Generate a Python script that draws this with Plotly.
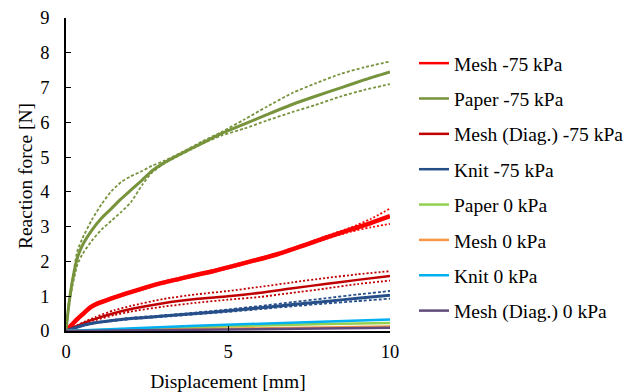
import plotly.graph_objects as go

# ---------------- data ----------------
paper75_x = [0, 0.05, 0.1, 0.2, 0.35, 0.5, 0.8, 1.1, 1.4, 1.7, 2.0, 2.35, 2.65, 3.0, 3.6, 4.2, 4.8, 5.5, 6.2, 7.0, 7.7, 8.5, 9.2, 10]
paper75_y = [0, 0.45, 0.85, 1.45, 2.1, 2.45, 2.9, 3.25, 3.52, 3.8, 4.05, 4.34, 4.6, 4.82, 5.12, 5.4, 5.68, 5.95, 6.22, 6.52, 6.75, 7.0, 7.22, 7.45]
paper75_hi = [0, 0.5, 0.9, 1.5, 2.3, 2.65, 3.2, 3.65, 4.02, 4.28, 4.45, 4.6, 4.75, 4.88, 5.15, 5.45, 5.72, 6.08, 6.45, 6.85, 7.12, 7.4, 7.58, 7.75]
paper75_lo = [0, 0.4, 0.75, 1.3, 1.9, 2.2, 2.6, 2.92, 3.17, 3.42, 3.7, 4.2, 4.55, 4.8, 5.1, 5.38, 5.62, 5.82, 6.05, 6.3, 6.5, 6.75, 6.93, 7.1]

mesh75_x = [0, 0.15, 0.3, 0.5, 0.75, 1.0, 1.5, 2.0, 2.5, 3.0, 3.5, 4.0, 4.5, 5.0, 5.7, 6.5, 7.3, 8.0, 8.8, 9.4, 10]
mesh75_y = [0, 0.15, 0.3, 0.47, 0.68, 0.8, 0.97, 1.12, 1.26, 1.39, 1.5, 1.61, 1.71, 1.83, 2.0, 2.2, 2.45, 2.68, 2.92, 3.1, 3.3]
mesh75_hi = [0, 0.17, 0.33, 0.5, 0.71, 0.83, 1.0, 1.15, 1.29, 1.42, 1.53, 1.64, 1.74, 1.86, 2.03, 2.23, 2.48, 2.72, 2.98, 3.22, 3.52]
mesh75_lo = [0, 0.13, 0.27, 0.44, 0.65, 0.77, 0.94, 1.09, 1.23, 1.36, 1.47, 1.58, 1.68, 1.8, 1.97, 2.17, 2.42, 2.64, 2.86, 2.98, 3.08]

diag75_x = [0, 0.3, 0.6, 0.9, 1.5, 2.0, 3.0, 4.0, 5.0, 6.0, 7.0, 8.0, 9.0, 10]
diag75_y = [0, 0.13, 0.25, 0.35, 0.52, 0.63, 0.8, 0.92, 1.0, 1.1, 1.23, 1.35, 1.47, 1.58]
diag75_hi = [0, 0.14, 0.28, 0.4, 0.6, 0.72, 0.92, 1.05, 1.15, 1.27, 1.4, 1.52, 1.63, 1.72]
diag75_lo = [0, 0.12, 0.22, 0.31, 0.46, 0.56, 0.7, 0.81, 0.9, 0.98, 1.1, 1.22, 1.35, 1.45]

knit75_x = [0, 0.3, 0.6, 1.0, 2.0, 3.0, 4.0, 5.0, 6.0, 7.0, 8.0, 9.0, 10]
knit75_y = [0, 0.1, 0.18, 0.25, 0.36, 0.43, 0.5, 0.58, 0.67, 0.76, 0.85, 0.94, 1.03]
knit75_hi = [0, 0.1, 0.19, 0.26, 0.38, 0.45, 0.53, 0.62, 0.72, 0.83, 0.94, 1.05, 1.15]
knit75_lo = [0, 0.09, 0.17, 0.24, 0.34, 0.41, 0.48, 0.55, 0.63, 0.71, 0.79, 0.86, 0.93]

zero_x = [0, 2, 4, 6, 8, 10]
paper0_y = [0, 0.06, 0.11, 0.16, 0.2, 0.23]
mesh0_y = [0, 0.03, 0.06, 0.08, 0.1, 0.13]
knit0_y = [0, 0.08, 0.15, 0.21, 0.27, 0.33]
diag0_y = [0, 0.02, 0.04, 0.06, 0.07, 0.09]

names = ["Mesh -75 kPa", "Paper -75 kPa", "Mesh (Diag.) -75 kPa", "Knit -75 kPa",
         "Paper 0 kPa", "Mesh 0 kPa", "Knit 0 kPa", "Mesh (Diag.) 0 kPa"]
colors = ["#FF0000", "#77933C", "#C00000", "#264F8A",
          "#92D050", "#F79646", "#00B0F0", "#604A7B"]

x_ticks = [0, 5, 10]
y_ticks = [0, 1, 2, 3, 4, 5, 6, 7, 8, 9]
x_title = "Displacement [mm]"
y_title = "Reaction force [N]"

FONT = "Liberation Serif, Times New Roman, serif"

fig = go.Figure()

series_75 = [
    (mesh75_x, mesh75_y, mesh75_hi, mesh75_lo, 4.5, "2px,2px"),
    (paper75_x, paper75_y, paper75_hi, paper75_lo, 3.0, "3px,2px"),
    (diag75_x, diag75_y, diag75_hi, diag75_lo, 2.5, "2px,2px"),
    (knit75_x, knit75_y, knit75_hi, knit75_lo, 3.0, "3px,2px"),
]

for i, (xs, ym, yh, yl, w, dash) in enumerate(series_75):
    grp = f"g{i}"
    for yb in (yh, yl):
        fig.add_trace(go.Scatter(x=xs, y=yb, mode="lines",
                                 line=dict(color=colors[i], width=1.8, dash=dash, shape="spline", smoothing=0.6),
                                 legendgroup=grp, showlegend=False, hoverinfo="skip"))
    fig.add_trace(go.Scatter(x=xs, y=ym, mode="lines", name=names[i],
                             line=dict(color=colors[i], width=w, shape="spline", smoothing=0.6),
                             legendgroup=grp, showlegend=False))

zero_series = [paper0_y, mesh0_y, knit0_y, diag0_y]
for j, ys in enumerate(zero_series):
    i = 4 + j
    fig.add_trace(go.Scatter(x=zero_x, y=ys, mode="lines", name=names[i],
                             line=dict(color=colors[i], width=2.5),
                             legendgroup=f"g{i}", showlegend=False))

# legend entries (uniform line width, as in the reference legend)
for i, nm in enumerate(names):
    fig.add_trace(go.Scatter(x=[None], y=[None], mode="lines", name=nm,
                             line=dict(color=colors[i], width=2.5),
                             legendgroup=f"g{i}", showlegend=True))

# the page body adds an 8px offset, so the figure is 630x384 and margins are shifted
fig.update_layout(
    width=630, height=384,
    margin=dict(l=58, r=248, t=10, b=61, autoexpand=False),
    paper_bgcolor="white", plot_bgcolor="white",
    font=dict(family=FONT, size=19, color="black"),
    showlegend=True,
    legend=dict(x=1.074, y=0.917, xanchor="left", yanchor="top",
                font=dict(family=FONT, size=19.5, color="black"),
                tracegroupgap=7, traceorder="grouped", itemwidth=30,
                bgcolor="rgba(0,0,0,0)"),
    annotations=[dict(text=y_title, textangle=-90, xref="paper", yref="paper",
                      x=-0.1265, y=0.495, xanchor="center", yanchor="middle",
                      showarrow=False, font=dict(family=FONT, size=19.5, color="black"))],
)
fig.update_xaxes(range=[0, 10], tickvals=x_ticks, ticks="inside", ticklen=5, tickcolor="black",
                 showline=True, linecolor="black", linewidth=1.5, showgrid=False, zeroline=False,
                 automargin=False,
                 tickfont=dict(family=FONT, size=18.5), ticklabelstandoff=3,
                 title=dict(text=x_title, font=dict(family=FONT, size=19.5), standoff=13))
fig.update_yaxes(range=[0, 9], tickvals=y_ticks, ticks="inside", ticklen=5, tickcolor="black",
                 showline=True, linecolor="black", linewidth=1.5, showgrid=False, zeroline=False,
                 automargin=False,
                 tickfont=dict(family=FONT, size=18.5), ticklabelstandoff=11)

fig.write_html("out.html")
